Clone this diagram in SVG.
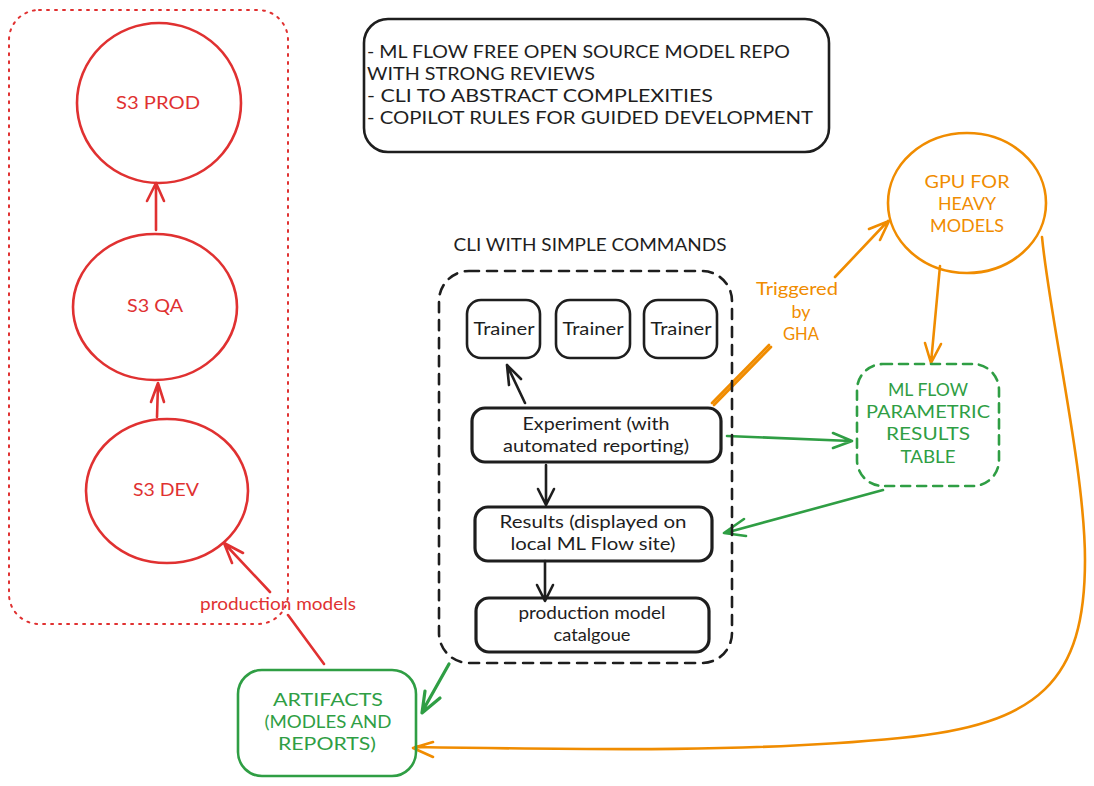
<svg xmlns="http://www.w3.org/2000/svg" width="1094" height="786" viewBox="0 0 1094 786">
<style>
text{font-family:"Lato","Noto Sans","Liberation Sans",sans-serif;font-size:17px;text-anchor:middle}
.s{text-anchor:start}
.k{fill:#1e1e1e}.r{fill:#e03131}.g{fill:#2f9e44}.o{fill:#f08c00}
.b{fill:none;stroke-linecap:round;stroke-linejoin:round;stroke-width:2}
.t{stroke-width:2.6}
.u{stroke-width:3.2}
.sk{stroke:#1e1e1e}.sr{stroke:#e03131}.sg{stroke:#2f9e44}.so{stroke:#f08c00}
</style>
<rect width="1094" height="786" fill="#fff"/>
<g id="connectors">
<path class="b t sr" d="M156 230L156 184M147 201L156 183L164 201"/>
<path class="b t sr" d="M157 417L158 384M151 402L158 383L164 402"/>
<path class="b t sr" d="M270 592L224 543M232 563L224 543L243 553M324 664L288 615"/>
<path class="b t sk" d="M525 403L507 365M507 365L509 385M507 365L521 379"/>
<path class="b t sk" d="M546 465L546 505M538 489L546 505L554 489"/>
<path class="b t sk" d="M545 561L545 600M537 585L545 601L553 585"/>
<path class="b t so" d="M712 403L769 345M714 405L771 347M835 277L888 221M869 229L889 221L880 240"/>
<path class="b t so" d="M940 266L931 363M925 343L931 363L941 344"/>
<path class="b t sg" d="M727 436L851 441M833 433L852 441L833 448"/>
<path class="b t sg" d="M883 490L725 533M744 519L724 533L746 536"/>
<path class="b u sg" d="M449 664L422 712M425 691L422 713L440 698"/>
<path class="b t so" d="M1042 237C1050 320 1085 470 1085 560C1085 680 1040 725 900 738C760 752 600 750 415 747M433 742L413 748L433 757"/>
</g>
<g id="group-s3"><rect class="b sr" x="9" y="10" width="279" height="614" rx="30" stroke-dasharray="2 6"/></g>
<g id="s3-prod"><ellipse class="b t sr" cx="159" cy="103" rx="82" ry="80"/><text class="r" x="158" y="109" textLength="84" lengthAdjust="spacingAndGlyphs">S3 PROD</text></g>
<g id="s3-qa"><ellipse class="b t sr" cx="155" cy="307" rx="82" ry="73"/><text class="r" x="155" y="312" textLength="56" lengthAdjust="spacingAndGlyphs">S3 QA</text></g>
<g id="s3-dev"><ellipse class="b t sr" cx="167" cy="491" rx="81" ry="72"/><text class="r" x="166" y="496" textLength="66" lengthAdjust="spacingAndGlyphs">S3 DEV</text></g>
<g id="notes"><rect class="b t sk" x="364" y="19" width="465" height="133" rx="24"/>
<text class="k s" x="367" y="58" textLength="423" lengthAdjust="spacingAndGlyphs">- ML FLOW FREE OPEN SOURCE MODEL REPO</text>
<text class="k s" x="367" y="80" textLength="228" lengthAdjust="spacingAndGlyphs">WITH STRONG REVIEWS</text>
<text class="k s" x="367" y="102" textLength="346" lengthAdjust="spacingAndGlyphs">- CLI TO ABSTRACT COMPLEXITIES</text>
<text class="k s" x="367" y="124" textLength="446" lengthAdjust="spacingAndGlyphs">- COPILOT RULES FOR GUIDED DEVELOPMENT</text></g>
<g id="cli-title"><text class="k" x="590" y="251" textLength="273" lengthAdjust="spacingAndGlyphs">CLI WITH SIMPLE COMMANDS</text></g>
<g id="cli-group"><rect class="b t sk" x="439" y="271" width="293" height="392" rx="30" stroke-dasharray="10 8"/></g>
<g id="trainer-1"><rect class="b t sk" x="467" y="300" width="73" height="58" rx="14"/><text class="k" x="504" y="335" textLength="61" lengthAdjust="spacingAndGlyphs">Trainer</text></g>
<g id="trainer-2"><rect class="b t sk" x="556" y="300" width="74" height="58" rx="14"/><text class="k" x="593" y="335" textLength="61" lengthAdjust="spacingAndGlyphs">Trainer</text></g>
<g id="trainer-3"><rect class="b t sk" x="644" y="300" width="73" height="58" rx="14"/><text class="k" x="681" y="335" textLength="61" lengthAdjust="spacingAndGlyphs">Trainer</text></g>
<g id="experiment"><rect class="b u sk" x="472" y="408" width="249" height="54" rx="13"/><text class="k" x="596" y="430" textLength="147" lengthAdjust="spacingAndGlyphs">Experiment (with</text><text class="k" x="596" y="452" textLength="186" lengthAdjust="spacingAndGlyphs">automated reporting)</text></g>
<g id="results"><rect class="b u sk" x="475" y="507" width="237" height="54" rx="13"/><text class="k" x="593" y="528" textLength="187" lengthAdjust="spacingAndGlyphs">Results (displayed on</text><text class="k" x="593" y="550" textLength="165" lengthAdjust="spacingAndGlyphs">local ML Flow site)</text></g>
<g id="catalogue"><rect class="b u sk" x="476" y="598" width="233" height="54" rx="13"/><text class="k" x="592" y="619" textLength="147" lengthAdjust="spacingAndGlyphs">production model</text><text class="k" x="592" y="641" textLength="77" lengthAdjust="spacingAndGlyphs">catalgoue</text></g>
<g id="gpu"><ellipse class="b t so" cx="967" cy="203" rx="79" ry="70"/><text class="o" x="967" y="188" textLength="85" lengthAdjust="spacingAndGlyphs">GPU FOR</text><text class="o" x="967" y="210" textLength="58" lengthAdjust="spacingAndGlyphs">HEAVY</text><text class="o" x="967" y="232" textLength="74" lengthAdjust="spacingAndGlyphs">MODELS</text></g>
<g id="trigger-label"><text class="o" x="797" y="295" textLength="82" lengthAdjust="spacingAndGlyphs">Triggered</text><text class="o" x="801" y="318" textLength="19" lengthAdjust="spacingAndGlyphs">by</text><text class="o" x="801" y="340" textLength="36" lengthAdjust="spacingAndGlyphs">GHA</text></g>
<g id="mlflow-table"><rect class="b t sg" x="857" y="364" width="142" height="122" rx="26" stroke-dasharray="9 7"/><text class="g" x="928" y="396" textLength="80" lengthAdjust="spacingAndGlyphs">ML FLOW</text><text class="g" x="928" y="418" textLength="124" lengthAdjust="spacingAndGlyphs">PARAMETRIC</text><text class="g" x="928" y="440" textLength="84" lengthAdjust="spacingAndGlyphs">RESULTS</text><text class="g" x="928" y="463" textLength="55" lengthAdjust="spacingAndGlyphs">TABLE</text></g>
<g id="artifacts"><rect class="b t sg" x="238" y="670" width="178" height="106" rx="24"/><text class="g" x="328" y="706" textLength="110" lengthAdjust="spacingAndGlyphs">ARTIFACTS</text><text class="g" x="328" y="728" textLength="127" lengthAdjust="spacingAndGlyphs">(MODLES AND</text><text class="g" x="327" y="750" textLength="98" lengthAdjust="spacingAndGlyphs">REPORTS)</text></g>
<g id="edge-label"><text class="r" x="278" y="610" textLength="156" lengthAdjust="spacingAndGlyphs">production models</text></g>
</svg>
